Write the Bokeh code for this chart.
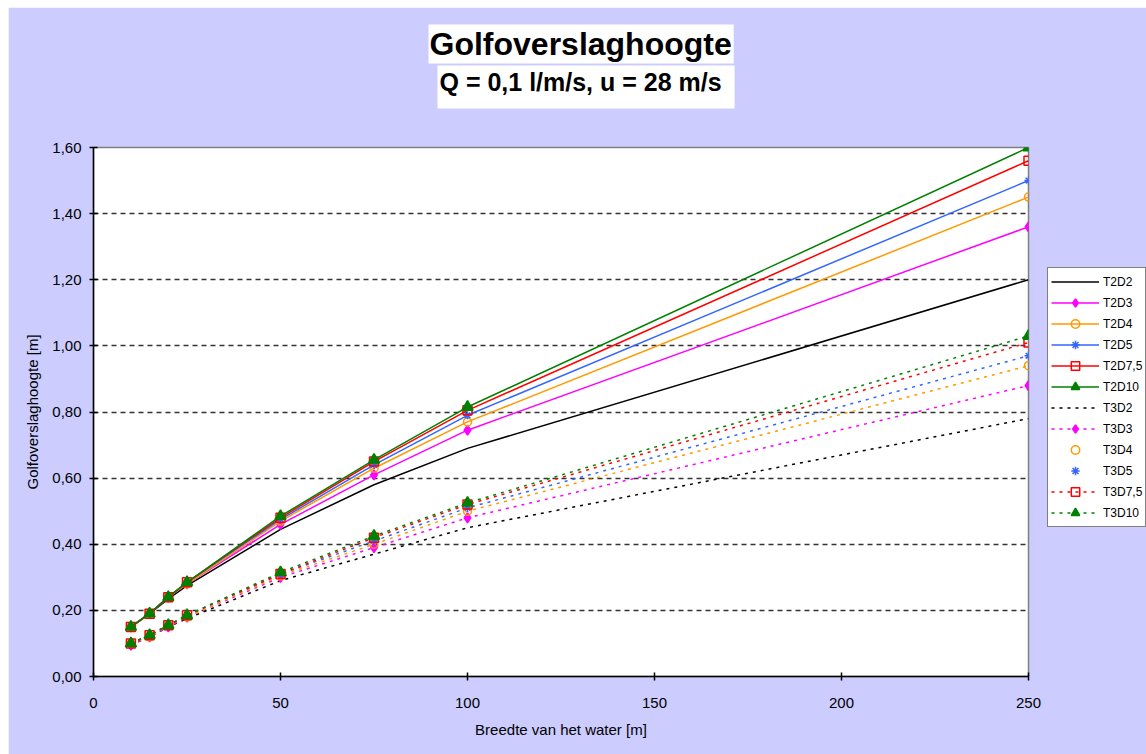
from bokeh.plotting import figure
from bokeh.models import Legend, LegendItem, Title, FixedTicker, Range1d
from bokeh.embed import file_html
from bokeh.resources import INLINE

# ---- data ----
breedte = [10, 15, 20, 25, 50, 75, 100, 250]

T2D2 = [0.15, 0.19, 0.235, 0.275, 0.445, 0.58, 0.69, 1.20]
T2D3 = [0.15, 0.19, 0.24, 0.28, 0.46, 0.61, 0.745, 1.36]
T2D4 = [0.15, 0.19, 0.24, 0.28, 0.47, 0.63, 0.77, 1.45]
T2D5 = [0.15, 0.19, 0.24, 0.285, 0.475, 0.64, 0.79, 1.50]
T2D75 = [0.15, 0.19, 0.24, 0.285, 0.48, 0.65, 0.805, 1.56]
T2D10 = [0.15, 0.19, 0.24, 0.285, 0.485, 0.655, 0.815, 1.60]

T3D2 = [0.095, 0.12, 0.15, 0.175, 0.29, 0.37, 0.45, 0.78]
T3D3 = [0.095, 0.12, 0.15, 0.18, 0.30, 0.39, 0.48, 0.88]
T3D4 = [0.10, 0.12, 0.155, 0.18, 0.305, 0.40, 0.50, 0.94]
T3D5 = [0.10, 0.125, 0.155, 0.185, 0.31, 0.41, 0.51, 0.97]
T3D75 = [0.10, 0.125, 0.155, 0.185, 0.31, 0.42, 0.52, 1.01]
T3D10 = [0.10, 0.125, 0.155, 0.185, 0.315, 0.425, 0.525, 1.03]

names = ["T2D2", "T2D3", "T2D4", "T2D5", "T2D7,5", "T2D10",
         "T3D2", "T3D3", "T3D4", "T3D5", "T3D7,5", "T3D10"]
series = [T2D2, T2D3, T2D4, T2D5, T2D75, T2D10,
          T3D2, T3D3, T3D4, T3D5, T3D75, T3D10]

y_ticks = [0.0, 0.2, 0.4, 0.6, 0.8, 1.0, 1.2, 1.4, 1.6]
y_tick_labels = ["0,00", "0,20", "0,40", "0,60", "0,80", "1,00", "1,20", "1,40", "1,60"]
x_ticks = [0, 50, 100, 150, 200, 250]

title_text = "Golfoverslaghoogte"
subtitle_text = "Q = 0,1 l/m/s, u = 28 m/s"
x_label = "Breedte van het water [m]"
y_label = "Golfoverslaghoogte [m]"

# ---- styles ----
colors = ["#000000", "#FF00FF", "#FF9900", "#3366FF", "#FF0000", "#008000"]
markers = [None, "diamond", "circle", "asterisk", "square", "triangle"]
marker_sizes = [0, 10, 8, 8, 9, 11]
marker_filled = [False, True, False, False, False, True]
FONT = "Liberation Sans"

p = figure(frame_width=935, frame_height=529,
           x_range=Range1d(0, 250), y_range=Range1d(0, 1.6),
           output_backend="svg", toolbar_location=None,
           min_border_left=85, min_border_right=118,
           min_border_top=140, min_border_bottom=78)
p.margin = (7, 0, 0, 8)

p.border_fill_color = "#CCCCFF"
p.background_fill_color = "white"
p.outline_line_color = "#808080"
p.outline_line_width = 1.5

# grid
p.xgrid.visible = False
p.ygrid.ticker = FixedTicker(ticks=y_ticks)
p.ygrid.grid_line_color = "#333333"
p.ygrid.grid_line_width = 1.5
p.ygrid.grid_line_dash = "5 4"

# axes
for ax in (p.xaxis[0], p.yaxis[0]):
    ax.axis_line_color = "black"
    ax.axis_line_width = 1.5
    ax.major_tick_line_color = "black"
    ax.major_tick_line_width = 1.5
    ax.major_tick_in = 4
    ax.major_tick_out = 4
    ax.minor_tick_line_color = None
    ax.major_label_text_font = FONT
    ax.major_label_text_font_size = "15px"
    ax.major_label_text_color = "black"
    ax.axis_label_text_font = FONT
    ax.axis_label_text_font_size = "15px"
    ax.axis_label_text_font_style = "normal"
    ax.axis_label_text_color = "black"

p.xaxis.ticker = FixedTicker(ticks=x_ticks)
p.yaxis.ticker = FixedTicker(ticks=y_ticks)
p.yaxis.major_label_overrides = {t: l for t, l in zip(y_ticks, y_tick_labels)}
p.xaxis.axis_label = x_label
p.yaxis.axis_label = y_label
p.xaxis.major_label_standoff = 17
p.yaxis.major_label_standoff = 8
p.xaxis.axis_label_standoff = 10
p.yaxis.axis_label_standoff = 8

items = []
for i, (name, ys) in enumerate(zip(names, series)):
    k = i % 6
    is_t3 = i >= 6
    c = colors[k]
    rends = []
    lr = p.line(breedte, ys, line_color=c, line_width=1.5,
                line_dash="solid" if not is_t3 else "3 5")
    if not (is_t3 and k in (2, 3)):
        rends.append(lr)
    if markers[k] is not None:
        mr = p.scatter(breedte, ys, marker=markers[k], size=marker_sizes[k],
                       line_color=c, line_width=1.5,
                       fill_color=c if marker_filled[k] else None)
        rends.append(mr)
    items.append(LegendItem(label=name, renderers=rends))

legend = Legend(items=items, location=(19, 149),
                glyph_width=48, glyph_height=21, spacing=0,
                label_standoff=4, padding=3, margin=0,
                label_height=21,
                border_line_color="black", border_line_width=1.5,
                background_fill_color="white", background_fill_alpha=1.0,
                label_text_font=FONT, label_text_font_size="12px",
                label_text_color="black")
p.add_layout(legend, "right")

# spacer panel between frame and subtitle
spacer = Title(text=" ", align="left", standoff=36,
               text_font=FONT, text_font_size="1px", text_color="#CCCCFF")
p.add_layout(spacer, "above")
sub = Title(text=subtitle_text, align="left", offset=344, standoff=0,
            padding=(2, 13, 2, 13),
            text_font=FONT, text_font_style="bold", text_font_size="25px",
            text_color="black", background_fill_color="white")
p.add_layout(sub, "above")
main = Title(text=title_text, align="left", offset=335, standoff=0,
             padding=(1, 2, 1, 2),
             text_font=FONT, text_font_style="bold", text_font_size="32px",
             text_color="black", background_fill_color="white")
p.add_layout(main, "above")

open("out.html", "w").write(file_html(p, INLINE))
